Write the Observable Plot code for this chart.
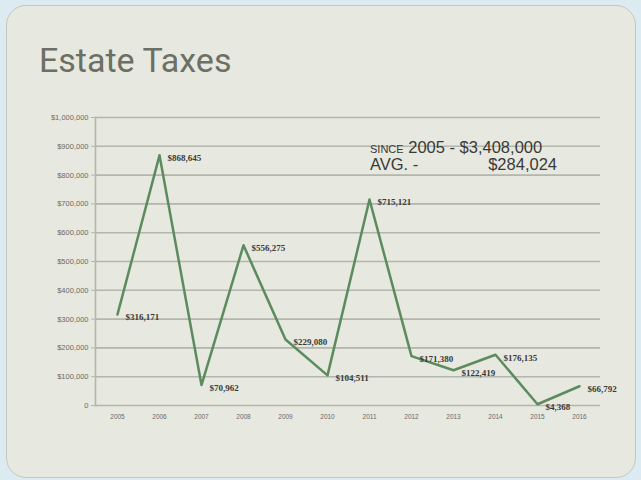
<!DOCTYPE html>
<html>
<head>
<meta charset="utf-8">
<script src="https://cdn.jsdelivr.net/npm/d3@7"></script>
<script src="https://cdn.jsdelivr.net/npm/@observablehq/plot@0.6"></script>
<style>
  html, body { margin: 0; padding: 0; }
  body { width: 641px; height: 480px; background: #dcebf1; position: relative; overflow: hidden; font-family: "Liberation Sans", Arial, sans-serif; }
  #card { position: absolute; left: 6px; top: 5px; width: 630px; height: 473px; background: #e7e8df; border: 1px solid #c4c8c0; border-radius: 20px; box-sizing: border-box; }
  #title { position: absolute; left: 39px; top: 43px; font-family: Roboto, "Liberation Sans", sans-serif; font-size: 34px; color: #6c6f64; line-height: 1; }
  #chart { position: absolute; left: 0; top: 0; }
  .note { position: absolute; font-family: "Liberation Sans", Arial, sans-serif; font-size: 16.5px; color: #3a3a36; white-space: nowrap; line-height: 1; }
</style>
</head>
<body>
<div id="card"></div>
<div id="title">Estate Taxes</div>
<div id="chart"></div>
<div class="note" style="left:370px; top:139px;"><span style="font-variant: small-caps; font-size:15px;">since</span> 2005 - $3,408,000</div>
<div class="note" style="left:370px; top:156px;">AVG. -</div>
<div class="note" style="right:84px; top:156px;">$284,024</div>
<script>
const years = ["2005","2006","2007","2008","2009","2010","2011","2012","2013","2014","2015","2016"];
const taxes = [316171, 868645, 70962, 556275, 229080, 104511, 715121, 171380, 122419, 176135, 4368, 66792];
const labels = ["$316,171","$868,645","$70,962","$556,275","$229,080","$104,511","$715,121","$171,380","$122,419","$176,135","$4,368","$66,792"];
const yTicks = [0,100000,200000,300000,400000,500000,600000,700000,800000,900000,1000000];

const data = years.map((y, i) => ({year: y, value: taxes[i], label: labels[i]}));

const chart = Plot.plot({
  width: 641,
  height: 480,
  marginLeft: 95,
  marginRight: 41,
  marginTop: 117,
  marginBottom: 75,
  style: {background: "transparent", fontFamily: "Liberation Sans, Arial, sans-serif"},
  x: {type: "point", domain: years, padding: 0.5, label: null},
  y: {domain: [0, 1000000], label: null},
  marks: [
    Plot.ruleY(yTicks, {stroke: "#b3b6ac", strokeWidth: 1.6}),
    Plot.frame({anchor: "left", stroke: "#b3b6ac", strokeWidth: 1.6}),
    Plot.axisY(yTicks, {tickSize: 4, tickPadding: 3, fontSize: 7.5, fill: "#6a6a66", stroke: "#b3b6ac",
      tickFormat: d => d === 0 ? "0" : d3.format("$,")(d)}),
    Plot.axisX({tickSize: 0, tickPadding: 9, fontSize: 6.5, fill: "#6a6a66"}),
    Plot.line(data, {x: "year", y: "value", stroke: "#5b8b5e", strokeWidth: 2.5}),
    Plot.text(data, {x: "year", y: "value", text: "label", textAnchor: "start", dx: 8, dy: 3,
      fontSize: 9, fontWeight: "bold", fontFamily: "Liberation Serif, serif", fill: "#3a3a36"})
  ]
});
document.getElementById("chart").appendChild(chart);
</script>
</body>
</html>
